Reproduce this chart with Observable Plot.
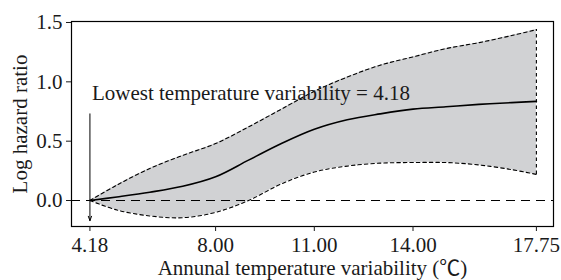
<!DOCTYPE html>
<html>
<head>
<meta charset="utf-8">
<script src="https://cdn.jsdelivr.net/npm/d3@7"></script>
<script src="https://cdn.jsdelivr.net/npm/@observablehq/plot@0.6"></script>
<style>
  html, body { margin: 0; padding: 0; background: #fff; }
</style>
</head>
<body>
<div id="chart"></div>
<script>
// Data
const temps = [4.18, 5, 6, 7, 8, 9, 10, 11, 12, 13, 14, 15, 16, 17, 17.75];
const fit   = [0, 0.03, 0.07, 0.12, 0.20, 0.34, 0.48, 0.60, 0.68, 0.73, 0.77, 0.79, 0.81, 0.825, 0.835];
const upper = [0, 0.13, 0.27, 0.38, 0.48, 0.62, 0.77, 0.92, 1.04, 1.14, 1.21, 1.28, 1.33, 1.39, 1.44];
const lower = [0, -0.08, -0.13, -0.145, -0.10, 0.0, 0.14, 0.24, 0.29, 0.315, 0.32, 0.32, 0.30, 0.26, 0.22];
const xTicks = [4.18, 8, 11, 14, 17.75];
const yTicks = [0, 0.5, 1, 1.5];
const refTemp = 4.18;
const arrowTop = 0.73, arrowBottom = -0.17, labelY = 0.90;
const annotation = "Lowest temperature variability = 4.18";
const xTitle = "Annunal temperature variability (\u2103)";
const yTitle = "Log hazard ratio";

const data = temps.map((t, i) => ({t, fit: fit[i], lo: lower[i], hi: upper[i]}));
const curve = "catmull-rom";
const ink = "#1a1a1a";
const font = "Liberation Serif, Noto Sans CJK SC, serif";

const chart = Plot.plot({
  width: 561,
  height: 280,
  marginLeft: 71,
  marginRight: 8,
  marginTop: 21,
  marginBottom: 54,
  style: {fontFamily: font, fontSize: "21px", color: ink, background: "#fff", overflow: "visible"},
  x: {domain: [3.62, 18.27]},
  y: {domain: [-0.219, 1.5084]},
  marks: [
    Plot.areaY(data, {x: "t", y1: "lo", y2: "hi", fill: "#d1d2d4", curve}),
    Plot.ruleY([0], {stroke: "#000", strokeWidth: 1.1, strokeDasharray: "9,6"}),
    Plot.line(data, {x: "t", y: "hi", stroke: "#000", strokeWidth: 1.1, strokeDasharray: "3.5,3", curve}),
    Plot.line(data, {x: "t", y: "lo", stroke: "#000", strokeWidth: 1.1, strokeDasharray: "3.5,3", curve}),
    Plot.ruleX([data[data.length - 1]], {x: "t", y1: "lo", y2: "hi", stroke: "#000", strokeWidth: 1.1, strokeDasharray: "3.5,3"}),
    Plot.line(data, {x: "t", y: "fit", stroke: "#000", strokeWidth: 1.6, curve}),
    Plot.arrow([{x: refTemp, y1: arrowTop, y2: arrowBottom}], {x1: "x", x2: "x", y1: "y1", y2: "y2", stroke: "#000", strokeWidth: 1, headLength: 7, headAngle: 40}),
    Plot.text([annotation], {x: refTemp, y: labelY, text: d => d, textAnchor: "start", lineAnchor: "middle", dx: 2, fill: ink, fontSize: 21, fontFamily: font}),
    Plot.frame({stroke: "#000", strokeWidth: 1.2}),
    Plot.axisX(xTicks, {tickSize: 5, tickPadding: 6, tickFormat: d => d.toFixed(2), fontSize: 21, fontFamily: font, fill: ink, label: null}),
    Plot.axisY(yTicks, {tickSize: 5, tickPadding: 4, tickFormat: d => d.toFixed(1), fontSize: 21, fontFamily: font, fill: ink, label: null}),
    Plot.text([xTitle], {frameAnchor: "bottom", dy: 42, textAnchor: "middle", lineAnchor: "middle", text: d => d, fontSize: 21, fontFamily: font, fill: ink}),
    Plot.text([yTitle], {frameAnchor: "left", dx: -51, rotate: -90, textAnchor: "middle", lineAnchor: "middle", text: d => d, fontSize: 21, fontFamily: font, fill: ink})
  ]
});
document.getElementById("chart").appendChild(chart);
</script>
</body>
</html>
